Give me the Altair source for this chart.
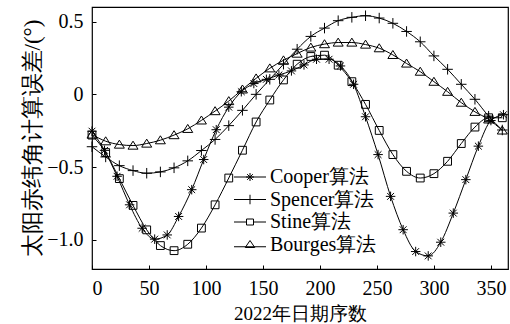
import altair as alt
import pandas as pd

names = ["Cooper算法", "Spencer算法", "Stine算法", "Bourges算法"]

cooper_day = [0, 11, 22, 33, 44, 55, 66, 76, 87.5, 98, 109, 120, 131, 142, 153, 164, 175,
              186, 197, 208, 218, 229.5, 240, 251, 262, 273, 284, 295, 306, 317, 328, 339, 350, 361]
cooper_val = [-0.253, -0.385, -0.563, -0.759, -0.92, -0.995, -0.966, -0.839, -0.655, -0.448,
              -0.243, -0.088, 0.018, 0.074, 0.103, 0.133, 0.161, 0.202, 0.241, 0.241, 0.195,
              0.069, -0.154, -0.414, -0.701, -0.93, -1.08, -1.11, -1.016, -0.816, -0.586,
              -0.356, -0.18, -0.14]

step_day = [0, 12, 24, 36, 48, 60, 72, 84, 96, 108, 120, 132, 144, 156, 168, 180, 192, 204,
            216, 228, 240, 252, 264, 276, 288, 300, 312, 324, 336, 348, 360]
spencer_val = [-0.36, -0.43, -0.49, -0.524, -0.542, -0.533, -0.505, -0.457, -0.386, -0.31,
               -0.215, -0.11, 0.0, 0.103, 0.207, 0.31, 0.398, 0.455, 0.506, 0.529, 0.54,
               0.524, 0.488, 0.432, 0.361, 0.264, 0.172, 0.069, -0.034, -0.15, -0.245]
stine_val = [-0.28, -0.40, -0.579, -0.763, -0.931, -1.039, -1.074, -1.03, -0.919, -0.759,
             -0.575, -0.384, -0.19, -0.039, 0.099, 0.207, 0.26, 0.269, 0.20, 0.087, -0.069,
             -0.248, -0.414, -0.529, -0.575, -0.545, -0.46, -0.338, -0.225, -0.161, -0.161]
bourges_val = [-0.276, -0.322, -0.345, -0.352, -0.338, -0.315, -0.28, -0.237, -0.179, -0.115,
               -0.046, 0.034, 0.11, 0.179, 0.234, 0.28, 0.322, 0.345, 0.356, 0.356, 0.342,
               0.317, 0.271, 0.212, 0.156, 0.087, 0.018, -0.057, -0.12, -0.172, -0.248]

x_ticks = [0, 50, 100, 150, 200, 250, 300, 350]
y_ticks = [-1.0, -0.5, 0, 0.5]

rows = []
for d, v in zip(cooper_day, cooper_val):
    rows.append({"series": names[0], "day": d, "val": v})
for name, vals in zip(names[1:], [spencer_val, stine_val, bourges_val]):
    for d, v in zip(step_day, vals):
        rows.append({"series": name, "day": d, "val": v})
df = pd.DataFrame(rows)

# marker shapes (unit box [-1,1] -> 10 px at size 100)
marker_paths = [
    "M0,-0.95V0.95M-0.95,0H0.95M-0.68,-0.68L0.68,0.68M-0.68,0.68L0.68,-0.68",
    "M0,-1.05V1.05M-1.05,0H1.05",
    "M-0.78,-0.78H0.78V0.78H-0.78Z",
    "M0,-0.88L1,0.72H-1Z",
]
legend_paths = [
    "M-3.2,0H3.2M0,-0.8V0.8M-0.8,0H0.8M-0.57,-0.57L0.57,0.57M-0.57,0.57L0.57,-0.57",
    "M-3.2,0H3.2M0,-0.95V0.95",
    "M-3.2,0H-0.7M0.7,0H3.2M-0.7,-0.6H0.7V0.6H-0.7Z",
    "M-3.2,0.45H3.2M0,-0.8L0.95,0.6H-0.95Z",
]

FONT = "Times New Roman, Liberation Serif, DejaVu Serif, serif"

x_enc = alt.X("day:Q", scale=alt.Scale(domain=[0, 365], nice=False),
              axis=alt.Axis(values=x_ticks, title="2022年日期序数", domain=False, grid=False,
                            offset=-4, tickSize=4, tickColor="black", tickWidth=1,
                            labelFont=FONT, labelFontSize=20, labelColor="black",
                            labelPadding=9, titleFont=FONT, titleFontSize=19,
                            titleFontWeight="normal", titleColor="black", titlePadding=6))
y_enc = alt.Y("val:Q", scale=alt.Scale(domain=[-1.2, 0.6], nice=False, zero=False),
              axis=alt.Axis(values=y_ticks, title="太阳赤纬角计算误差/(°)", domain=False, grid=False,
                            offset=-4, tickSize=4, tickColor="black", tickWidth=1,
                            labelExpr="datum.value == 0 ? '0' : format(datum.value, '.1f')",
                            labelFont=FONT, labelFontSize=20, labelColor="black",
                            labelPadding=9, titleFont=FONT, titleFontSize=23,
                            titleFontWeight="normal", titleColor="black", titlePadding=2))

lines = alt.Chart(df).mark_line(interpolate="monotone", color="black", strokeWidth=1).encode(
    x=x_enc, y=y_enc, detail="series:N")

points = alt.Chart(df).mark_point(filled=False, color="black", size=100, strokeWidth=1, opacity=1).encode(
    x=x_enc, y=y_enc,
    shape=alt.Shape("series:N", scale=alt.Scale(domain=names, range=marker_paths), legend=None))

legend_layer = alt.Chart(df).mark_point(filled=False, color="black", size=100, strokeWidth=1, opacity=0).encode(
    x=x_enc, y=y_enc,
    shape=alt.Shape("series:N", scale=alt.Scale(domain=names, range=legend_paths),
                    legend=alt.Legend(title=None, orient="none", legendX=148, legendY=160,
                                      symbolSize=100, symbolOpacity=1, symbolStrokeColor="black",
                                      symbolFillColor="transparent", symbolStrokeWidth=1,
                                      labelFont=FONT, labelFontSize=20, labelColor="black",
                                      labelOffset=10, rowPadding=2.5, padding=0,
                                      labelLimit=300)))

chart = alt.layer(lines, points, legend_layer).resolve_scale(shape="independent").properties(
    width=416, height=262,
    autosize=alt.AutoSizeParams(type="none"),
    padding={"left": 92, "top": 7, "right": 2, "bottom": 55},
    background="white",
).configure_view(stroke="black", strokeWidth=1.2)

chart.save("out.html", embed_options={"renderer": "svg", "actions": False})
